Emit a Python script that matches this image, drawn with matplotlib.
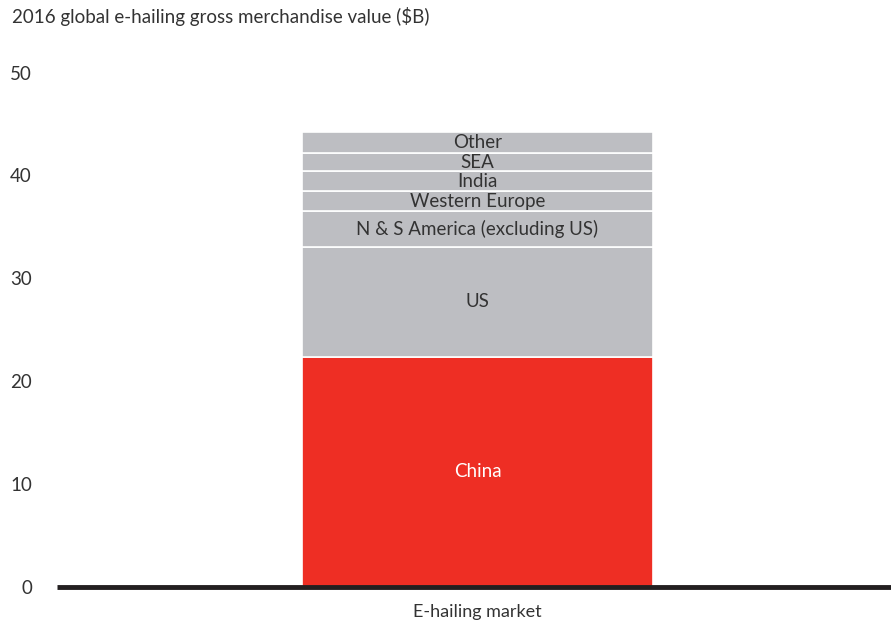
import numpy as np
import matplotlib.pyplot as plt

plt.rcParams['font.family'] = ['Lato', 'DejaVu Sans']

# 2016 e-hailing GMV by region, $B
regions = ['China', 'US', 'N & S America (excluding US)', 'Western Europe',
           'India', 'SEA', 'Other']
values = [22.4, 10.6, 3.5, 2.0, 1.9, 1.8, 2.0]
category = 'E-hailing market'
yticks = [0, 10, 20, 30, 40, 50]

red = '#EE2E24'
grey = '#BDBEC2'
colors = [red] + [grey] * (len(regions) - 1)

fig = plt.figure(figsize=(8.91, 6.26), dpi=100)
ax = fig.add_axes([57 / 891, (626 - 587) / 626, 834 / 891, (587 - 72.5) / 626])

bottom = 0
for name, val, col in zip(regions, values, colors):
    ax.bar(0, val, width=0.5, bottom=bottom, color=col,
           edgecolor='white', linewidth=1.2)
    txt_col = 'white' if col == red else '#333333'
    ax.text(0, bottom + val / 2, name, ha='center', va='center',
            fontsize=13.5, color=txt_col)
    bottom += val

ax.set_xlim(-0.599, 0.589)
ax.set_ylim(0, 50)
ax.set_yticks(yticks)
ax.set_yticklabels([str(t) for t in yticks], fontsize=13.5, color='#333333')
ax.set_xticks([0])
ax.set_xticklabels([category], fontsize=13, color='#333333')
ax.tick_params(axis='y', length=0, pad=18)
ax.tick_params(axis='x', length=0, pad=12)

for s in ['top', 'right', 'left']:
    ax.spines[s].set_visible(False)
ax.spines['bottom'].set_linewidth(3.5)
ax.spines['bottom'].set_color('#231F20')
ax.spines['bottom'].set_capstyle('butt')

fig.text(12 / 891, 1 - 17 / 626, '2016 global e-hailing gross merchandise value ($B)',
         ha='left', va='center', fontsize=13.5, color='#333333')

fig.savefig('out.png', dpi=100)
